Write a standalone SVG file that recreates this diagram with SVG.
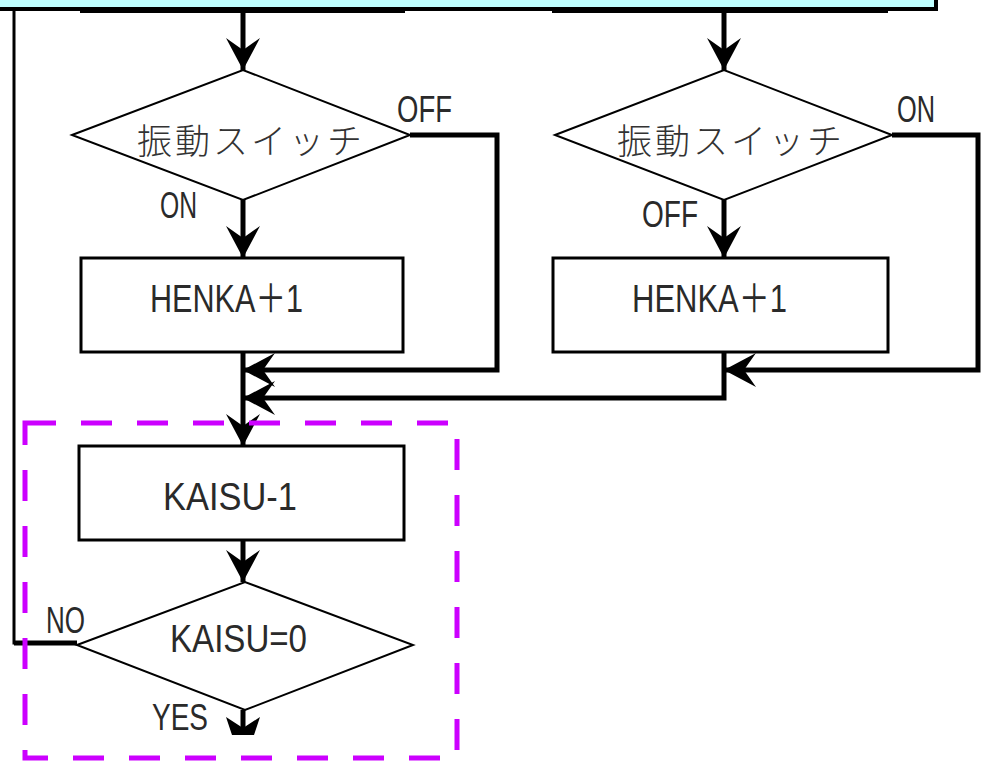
<svg xmlns="http://www.w3.org/2000/svg" width="982" height="761" viewBox="0 0 982 761">
<style>
.t{font-family:"Liberation Sans","Noto Sans CJK JP",sans-serif;fill:#2a2a2a;}
.j{font-family:"Noto Sans CJK JP",sans-serif;fill:#333;font-size:35px;letter-spacing:3px;font-weight:300;}
.ln{fill:none;stroke:#000;stroke-width:5;}
.dm{fill:#fff;stroke:#000;stroke-width:2;}
.bx{fill:#fff;stroke:#000;stroke-width:3;}
</style>
<defs>
<marker id="ah" viewBox="-34 -18 36 36" refX="0" refY="0" markerWidth="36" markerHeight="36" markerUnits="userSpaceOnUse" orient="auto">
<path d="M0,0 L-32,-17 L-20,0 L-32,17 Z" fill="#000"/>
</marker>
</defs>
<g id="topbox">
<rect x="-5" y="-5" width="941" height="14" fill="#bfffff" stroke="#000" stroke-width="4"/>
<rect x="80" y="9" width="325" height="4" fill="#000"/>
<rect x="552" y="9" width="336" height="4" fill="#000"/>
</g>
<g id="connectors">
<line class="ln" x1="243" y1="12" x2="243" y2="70" marker-end="url(#ah)"/>
<line class="ln" x1="724" y1="12" x2="724" y2="70" marker-end="url(#ah)"/>
<line class="ln" x1="243" y1="200" x2="243" y2="258" marker-end="url(#ah)"/>
<line class="ln" x1="724" y1="200" x2="724" y2="258" marker-end="url(#ah)"/>
<polyline class="ln" points="410,135 497,135 497,370 243,370" marker-end="url(#ah)"/>
<polyline class="ln" points="892,135 978,135 978,370 724,370" marker-end="url(#ah)"/>
<polyline class="ln" points="724,352 724,398 243,398" marker-end="url(#ah)"/>
<line class="ln" x1="243" y1="352" x2="243" y2="446" marker-end="url(#ah)"/>
<line class="ln" x1="243" y1="540" x2="243" y2="582" marker-end="url(#ah)"/>
<line class="ln" x1="243" y1="710" x2="243" y2="735"/>
<path d="M226,717 L243,728 L260,717 L254,735 L232,735 Z" fill="#000"/>
<polyline fill="none" stroke="#000" stroke-width="3" points="14,10 14,643 20,643"/>
<line x1="14" y1="643" x2="77" y2="643" stroke="#000" stroke-width="5"/>
</g>
<g id="sw1">
<polygon class="dm" points="72,135 243,70 410,135 243,200"/>
<text class="j" x="137" y="154">振動スイッチ</text>
</g>
<g id="sw2">
<polygon class="dm" points="555,135 724,70 892,135 724,200"/>
<text class="j" x="617" y="154">振動スイッチ</text>
</g>
<g id="labels">
<text class="t" x="397" y="122" font-size="36" textLength="55" lengthAdjust="spacingAndGlyphs">OFF</text>
<text class="t" x="160" y="218" font-size="36" textLength="37" lengthAdjust="spacingAndGlyphs">ON</text>
<text class="t" x="897" y="122" font-size="36" textLength="38" lengthAdjust="spacingAndGlyphs">ON</text>
<text class="t" x="642" y="227" font-size="36" textLength="56" lengthAdjust="spacingAndGlyphs">OFF</text>
<text class="t" x="46" y="633" font-size="36" textLength="39" lengthAdjust="spacingAndGlyphs">NO</text>
<text class="t" x="152" y="730" font-size="36" textLength="56" lengthAdjust="spacingAndGlyphs">YES</text>
</g>
<g id="henka1">
<rect class="bx" x="81" y="258" width="322" height="94"/>
<text class="t" x="150" y="312" font-size="39" textLength="153" lengthAdjust="spacingAndGlyphs">HENKA＋1</text>
</g>
<g id="henka2">
<rect class="bx" x="553" y="258" width="335" height="94"/>
<text class="t" x="632" y="312" font-size="39" textLength="155" lengthAdjust="spacingAndGlyphs">HENKA＋1</text>
</g>
<g id="kaisu1">
<rect class="bx" x="79" y="446" width="325" height="94"/>
<text class="t" x="163" y="510" font-size="39" textLength="134" lengthAdjust="spacingAndGlyphs">KAISU-1</text>
</g>
<g id="kaisu0">
<polygon class="dm" points="77,645 245,582 413,645 245,710"/>
<text class="t" x="170" y="652" font-size="39" textLength="137" lengthAdjust="spacingAndGlyphs">KAISU=0</text>
</g>
<g id="highlight">
<rect x="25" y="423" width="432" height="335" fill="none" stroke="#cc00ff" stroke-width="5" stroke-dasharray="31 25"/>
</g>
</svg>
